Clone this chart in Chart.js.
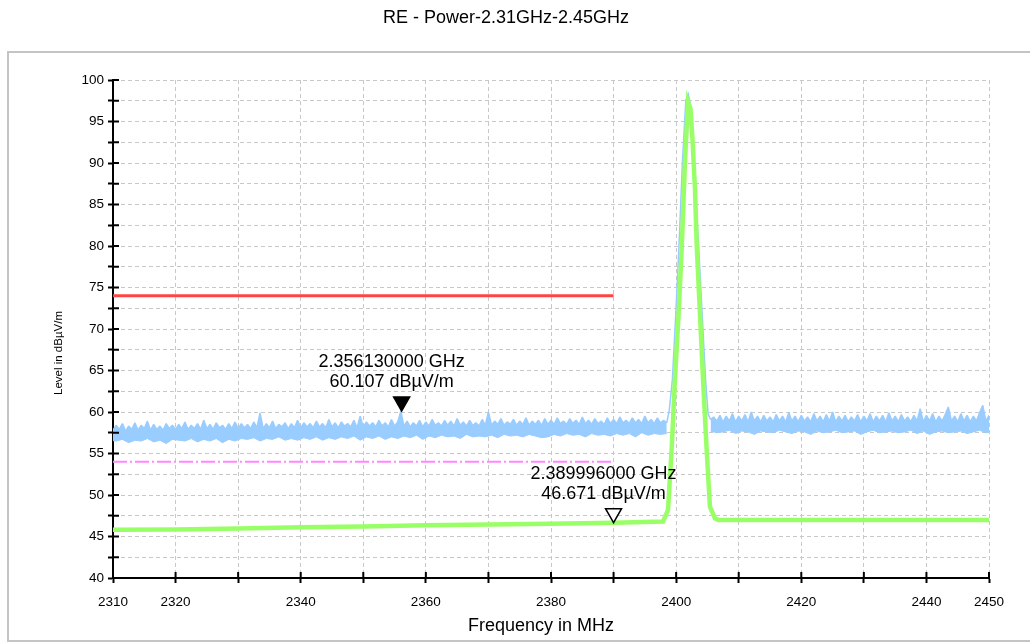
<!DOCTYPE html>
<html>
<head>
<meta charset="utf-8">
<title>RE - Power-2.31GHz-2.45GHz</title>
<script src="https://cdn.jsdelivr.net/npm/chart.js@4/dist/chart.umd.min.js"></script>
<style>
  body { margin: 0; background: #fff; }
  #wrap { position: relative; width: 1030px; height: 642px; overflow: hidden; }
  #frame { position: absolute; left: 7px; top: 51px; width: 1030px; height: 587px; border: 2px solid #c4c4c4; border-right: none; }
  #canvas { position: absolute; left: 0; top: 0; }
</style>
</head>
<body>
<div id="wrap">
  <div id="frame"></div>
  <canvas id="canvas" width="1030" height="642"></canvas>
</div>
<script>
const chartTitle = "RE - Power-2.31GHz-2.45GHz";
const xTitle = "Frequency in MHz";
const yTitle = "Level in dBµV/m";

// x tick labels that are printed (other 10 MHz ticks stay blank)
const xLabels = [2310, 2320, 2340, 2360, 2380, 2400, 2420, 2440, 2450];

// max peak trace (blue), top edge of the noise band in 0.5 MHz steps
const blueStep = 0.5;
const blueLowStart = 2310;
const blueLow = [
  57.8, 58.4, 57.9, 58.6, 57.7, 58.3, 57.9, 58.7, 57.8, 58.4, 58.0, 58.9, 57.8, 58.5, 57.9, 58.3, 57.8, 58.6, 58.0, 58.4,
  57.9, 58.5, 58.0, 58.8, 57.9, 58.4, 58.0, 58.6, 57.9, 59.0, 58.0, 58.5, 57.9, 58.7, 58.1, 58.4, 57.9, 58.6, 58.0, 58.8,
  58.0, 58.6, 58.1, 58.5, 58.0, 58.8, 58.1, 59.9, 58.0, 58.6, 58.1, 58.9, 58.0, 58.5, 58.2, 58.7, 58.0, 58.6, 58.1, 59.0,
  58.1, 58.7, 58.2, 58.6, 58.1, 58.9, 58.2, 58.6, 58.1, 59.1, 58.2, 58.7, 58.1, 58.8, 58.3, 58.6, 58.2, 59.0, 58.1, 59.5,
  58.2, 58.8, 58.3, 58.7, 58.2, 59.0, 58.3, 58.7, 58.2, 59.1, 58.3, 58.8, 60.1, 58.3, 58.9, 58.2, 58.7, 58.3, 59.0, 58.2,
  58.8, 58.3, 59.1, 58.4, 58.7, 58.3, 59.0, 58.4, 58.9, 58.3, 59.2, 58.4, 58.8, 58.3, 59.0, 58.4, 58.7, 58.3, 59.1, 58.4,
  60.0, 58.4, 58.9, 58.5, 59.2, 58.4, 58.8, 58.5, 59.1, 58.4, 58.9, 58.5, 59.3, 58.4, 58.9, 58.5, 59.0, 58.4, 59.2, 58.5,
  59.0, 58.5, 59.3, 58.6, 58.9, 58.5, 59.2, 58.6, 59.0, 58.5, 59.4, 58.6, 59.0, 58.5, 59.2, 58.6, 58.9, 58.5, 59.3, 58.6,
  59.1, 58.6, 59.4, 58.7, 59.0, 58.6, 59.3, 58.7, 59.1, 58.6, 59.5, 58.7, 59.1, 58.6, 59.3, 58.7, 59.0, 58.7
];
const bluePeakFreq = [2398.9, 2399.4, 2399.95, 2400.45, 2401.0, 2401.55, 2401.95, 2402.4, 2402.95, 2403.6, 2404.15, 2404.7, 2405.1];
const bluePeakLevel = [60.2, 63.9, 71.9, 79.9, 90.0, 97.6, 98.3, 96.5, 88.5, 79.9, 71.9, 63.9, 59.8];
const blueHighStart = 2405.5;
const blueHigh = [
  59.1, 59.4, 58.9, 59.6, 58.8, 59.5, 58.9, 59.8, 58.8,
  59.5, 58.9, 59.7, 58.8, 60.0, 58.9, 59.5, 58.8, 59.6, 58.9, 59.4, 58.8, 59.7, 58.9, 59.5, 58.8, 59.9, 58.9, 59.5, 58.8,
  59.6, 58.9, 59.4, 58.8, 59.8, 58.9, 59.5, 58.8, 59.7, 58.9, 60.0, 58.8, 59.5, 58.9, 59.6, 58.8, 59.4, 58.9, 59.7, 58.8,
  59.5, 58.9, 59.8, 58.8, 59.5, 58.9, 59.6, 58.8, 59.9, 58.9, 59.5, 58.8, 59.7, 58.9, 59.4, 58.8, 59.6, 58.9, 60.4, 58.8,
  59.6, 58.9, 59.8, 58.8, 59.5, 58.9, 59.7, 60.6, 58.9, 59.5, 58.8, 59.8, 58.9, 59.6, 58.8, 59.5, 58.9, 59.9, 60.8, 58.9, 59.6
];

// bottom edge of the blue noise band, 1 MHz steps
const floorStep = 1;
const floorLowStart = 2309.5;
const floorLow = [
  56.6,
  56.5, 56.7, 56.3, 56.6, 56.5, 56.8, 56.4, 56.6, 56.2, 56.7,
  56.6, 56.5, 56.8, 56.4, 56.7, 56.5, 56.8, 56.3, 56.7, 56.5,
  56.8, 56.7, 56.9, 56.5, 56.8, 56.7, 57.0, 56.6, 56.8, 56.6,
  56.9, 56.7, 57.0, 56.6, 56.9, 56.7, 57.0, 56.8, 57.1, 56.6,
  57.0, 56.8, 57.1, 56.7, 57.0, 56.8, 57.1, 56.9, 57.2, 56.7,
  57.1, 56.9, 57.2, 57.0, 57.1, 56.8, 57.3, 57.0, 57.1, 57.0,
  57.2, 56.9, 57.3, 57.1, 57.2, 57.0, 57.3, 57.1, 56.9, 57.0,
  57.3, 57.1, 57.4, 57.2, 57.3, 57.0, 57.4, 57.2, 57.3, 57.1,
  57.4, 57.2, 57.4, 57.0, 57.5, 57.2, 57.4, 57.3, 57.4
];
const floorHighStart = 2405.5;
const floorHigh = [
  57.7, 57.5, 57.6, 57.8, 57.4, 57.7, 57.6, 57.3, 57.7, 57.6,
  57.5, 57.8, 57.6, 57.4, 57.7, 57.6, 57.3, 57.7, 57.5, 57.6,
  57.8, 57.5, 57.6, 57.7, 57.3, 57.6, 57.8, 57.5, 57.6, 57.7,
  57.5, 57.6, 57.8, 57.4, 57.7, 57.3, 57.6, 57.7, 57.5, 57.6,
  57.7, 57.4, 57.6, 57.8, 57.5, 57.6
];

// average trace (green)
const greenFreq = [2310, 2320, 2330, 2340, 2350, 2360, 2370, 2380, 2390, 2397.9, 2398.7, 2399.3, 2399.8, 2400.4, 2400.9, 2401.4, 2401.9,
  2402.3, 2402.6, 2403.0, 2403.3, 2403.8, 2404.3, 2404.85, 2405.4, 2406.2, 2406.75, 2420, 2430, 2440, 2450];
const greenLevel = [45.8, 45.85, 45.95, 46.1, 46.2, 46.35, 46.45, 46.55, 46.65, 46.8, 48.2, 55.8, 63.9, 71.9, 79.9, 90.0, 97.4,
  96.5, 93.0, 87.0, 79.9, 71.9, 63.9, 55.8, 48.6, 47.2, 47.0, 47.0, 47.0, 47.0, 47.0];

// limit lines
const limitFreq = [2310, 2390];
const peakLimit = [74, 74];
const avgLimit = [54, 54];

// markers
const markerFreq = [2356.13, 2389.996];
const markerLevel = [60.107, 46.671];
const markerFilled = [true, false];

const blueColor = '#99ccff';

function toPoints(xs, ys) {
  return xs.map((x, i) => ({x: x, y: ys[i]}));
}

function stepPoints(start, step, values) {
  return values.map((v, i) => ({x: start + i * step, y: v}));
}

function peakPoints() {
  let pts = [{x: blueLowStart + (blueLow.length - 1) * blueStep, y: blueLow[blueLow.length - 1]}];
  pts = pts.concat(toPoints(bluePeakFreq, bluePeakLevel));
  pts.push({x: blueHighStart, y: blueHigh[0]});
  return pts;
}

const overlay = {
  id: 'overlay',
  afterDraw(chart) {
    const c = chart.ctx;
    const xs = chart.scales.x;
    const ys = chart.scales.y;
    c.save();

    // inner half of the tick marks
    c.strokeStyle = '#000';
    c.lineWidth = 2;
    ys.ticks.forEach(t => {
      const y = ys.getPixelForValue(t.value);
      c.beginPath(); c.moveTo(xs.left, y); c.lineTo(xs.left + 6, y); c.stroke();
    });
    xs.ticks.forEach(t => {
      const x = xs.getPixelForValue(t.value);
      c.beginPath(); c.moveTo(x, ys.bottom); c.lineTo(x, ys.bottom - 6); c.stroke();
    });

    c.fillStyle = '#000';
    c.textAlign = 'center';
    c.textBaseline = 'middle';
    c.font = '18px "Liberation Sans", Arial, sans-serif';
    c.fillText(chartTitle, 506, 18);
    c.fillText(xTitle, 541, 626);

    c.save();
    c.translate(59, 353);
    c.rotate(-Math.PI / 2);
    c.font = '11.5px "Liberation Sans", Arial, sans-serif';
    c.fillText(yTitle, 0, 0);
    c.restore();

    markerFreq.forEach((f, i) => {
      const px = xs.getPixelForValue(f);
      const py = ys.getPixelForValue(markerLevel[i]);
      c.beginPath();
      c.moveTo(px, py);
      c.lineTo(px - 8, py - 14);
      c.lineTo(px + 8, py - 14);
      c.closePath();
      c.lineWidth = 1.5;
      c.strokeStyle = '#000';
      c.fillStyle = markerFilled[i] ? '#000' : '#fff';
      c.fill();
      c.stroke();
      c.fillStyle = '#000';
      c.font = '18px "Liberation Sans", Arial, sans-serif';
      c.fillText((f / 1000).toFixed(9) + ' GHz', px - 10, py - 49);
      c.fillText(markerLevel[i].toFixed(3) + ' dBµV/m', px - 10, py - 29);
    });
    c.restore();
  }
};

function displayChart() {
  Chart.defaults.font.family = '"Liberation Sans", Arial, sans-serif';
  Chart.defaults.color = '#000';
  let ctx = document.getElementById('canvas').getContext('2d');
  new Chart(ctx, {
    type: 'line',
    data: {
      datasets: [{
        label: 'Max Peak',
        data: stepPoints(blueLowStart, blueStep, blueLow),
        borderColor: blueColor,
        backgroundColor: blueColor,
        borderWidth: 1.5,
        borderJoinStyle: 'bevel',
        fill: '+1',
        pointRadius: 0,
        order: 2
      }, {
        label: 'floor low',
        data: stepPoints(floorLowStart, floorStep, floorLow),
        borderColor: blueColor,
        borderWidth: 1,
        pointRadius: 0,
        order: 2
      }, {
        label: 'Max Peak carrier',
        data: peakPoints(),
        borderColor: blueColor,
        borderWidth: 1.5,
        pointRadius: 0,
        order: 2
      }, {
        label: 'Max Peak high',
        data: stepPoints(blueHighStart, blueStep, blueHigh),
        borderColor: blueColor,
        backgroundColor: blueColor,
        borderWidth: 1.5,
        borderJoinStyle: 'bevel',
        fill: '+1',
        pointRadius: 0,
        order: 2
      }, {
        label: 'floor high',
        data: stepPoints(floorHighStart, floorStep, floorHigh),
        borderColor: blueColor,
        borderWidth: 1,
        pointRadius: 0,
        order: 2
      }, {
        label: 'Average',
        data: toPoints(greenFreq, greenLevel),
        borderColor: '#99ff66',
        borderWidth: 4.5,
        pointRadius: 0,
        order: 1
      }, {
        label: 'Peak limit',
        data: toPoints(limitFreq, peakLimit),
        borderColor: '#ff4444',
        borderWidth: 3,
        pointRadius: 0,
        order: 3
      }, {
        label: 'Average limit',
        data: toPoints(limitFreq, avgLimit),
        borderColor: '#ff88ff',
        borderWidth: 2,
        borderDash: [14, 3, 2, 3],
        pointRadius: 0,
        order: 3
      }]
    },
    options: {
      responsive: false,
      animation: false,
      layout: { padding: { left: 0, right: 41, top: 80, bottom: 0 } },
      plugins: {
        legend: { display: false },
        tooltip: { enabled: false },
        title: { display: false }
      },
      scales: {
        x: {
          type: 'linear',
          min: 2310,
          max: 2450,
          afterFit: s => { s.height = 64; },
          ticks: {
            stepSize: 10,
            autoSkip: false,
            maxRotation: 0,
            padding: 11,
            font: { size: 13.5 },
            callback: v => xLabels.includes(v) ? v : ''
          },
          grid: { color: '#c8c8c8', tickColor: '#000', tickWidth: 2, tickLength: 5, tickBorderDash: [] },
          border: { color: '#000', width: 2, dash: [4, 3] }
        },
        y: {
          min: 40,
          max: 100,
          afterFit: s => { s.width = 113; },
          ticks: {
            stepSize: 2.5,
            autoSkip: false,
            padding: 4,
            font: { size: 13.5 },
            callback: v => v % 5 === 0 ? v : ''
          },
          grid: { color: '#c8c8c8', tickColor: '#000', tickWidth: 2, tickLength: 5, tickBorderDash: [] },
          border: { color: '#000', width: 2, dash: [4, 3] }
        }
      }
    },
    plugins: [overlay]
  });
}

displayChart();
</script>
</body>
</html>
